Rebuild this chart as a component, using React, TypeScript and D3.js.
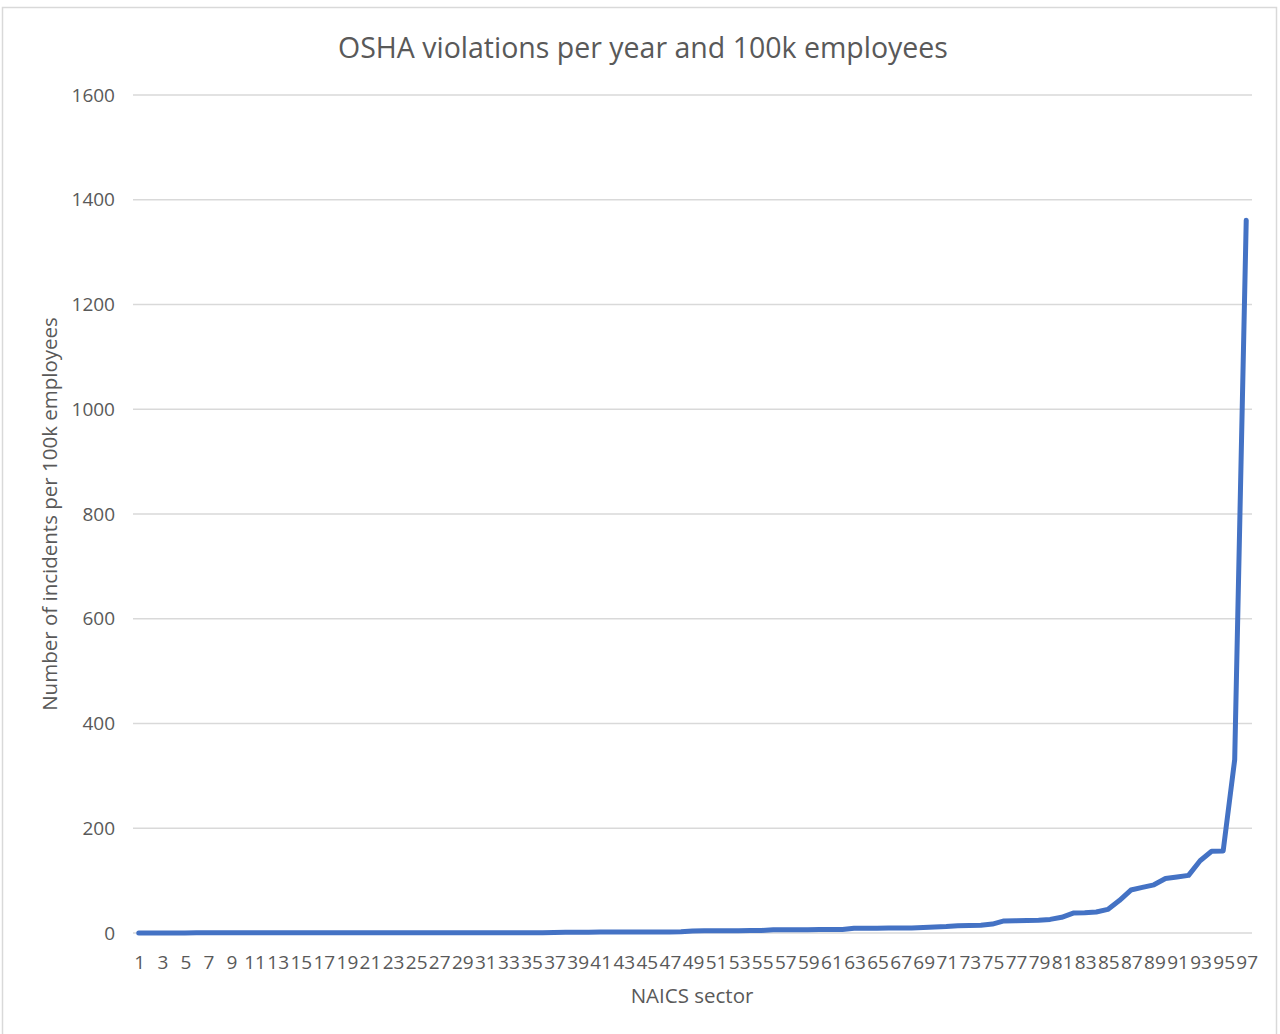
import { useEffect, useRef } from "react";
import * as d3 from "d3";

// NAICS sectors ranked 1..97 (sorted ascending by rate)
const sectors = d3.range(1, 98);

// incidents per year and 100k employees
const rates = [
  0.2, 0.2, 0.2, 0.2, 0.2, 0.3, 0.3, 0.3, 0.3, 0.3,
  0.3, 0.3, 0.4, 0.4, 0.4, 0.4, 0.4, 0.4, 0.4, 0.5,
  0.5, 0.5, 0.5, 0.5, 0.5, 0.5, 0.6, 0.6, 0.6, 0.6,
  0.6, 0.6, 0.7, 0.7, 0.7, 0.7, 1.0, 1.5, 1.6, 1.6,
  1.7, 1.7, 1.8, 1.8, 1.9, 1.9, 2.0, 2.3, 4.0, 4.2,
  4.3, 4.4, 4.5, 4.6, 4.8, 6.0, 6.2, 6.3, 6.4, 6.5,
  6.6, 6.8, 9.0, 9.2, 9.3, 9.4, 9.5, 9.7, 10.5, 11.5,
  12.5, 14.0, 14.5, 15.0, 17.0, 23.0, 23.5, 24.0, 24.5, 26.0,
  30.0, 38.0, 38.5, 40.0, 45.0, 62.0, 82.0, 87.0, 92.0, 104.0,
  107.0, 110.0, 138.0, 156.0, 156.5, 331.0, 1361.0,
];

const yTicks = [0, 200, 400, 600, 800, 1000, 1200, 1400, 1600];

const W = 1280;
const H = 1034;
const margin = { top: 95, right: 28, bottom: 101, left: 133 };
const FONT = "'Open Sans', 'Noto Sans', sans-serif";
const TEXT = "#595959";

export default function App() {
  const ref = useRef<SVGSVGElement>(null);

  useEffect(() => {
    if (!ref.current) return;
    const svg = d3.select(ref.current);
    svg.selectAll("*").remove();

    const x = d3
      .scalePoint<number>()
      .domain(sectors)
      .range([margin.left, W - margin.right])
      .padding(0.5);

    const y = d3
      .scaleLinear()
      .domain([0, 1600])
      .range([H - margin.bottom, margin.top]);

    // chart frame
    svg
      .append("rect")
      .attr("x", 2.5)
      .attr("y", 7.5)
      .attr("width", 1274)
      .attr("height", 1030)
      .attr("fill", "#fff")
      .attr("stroke", "#d9d9d9")
      .attr("stroke-width", 1.5);

    // gridlines
    svg
      .append("g")
      .selectAll("line")
      .data(yTicks)
      .join("line")
      .attr("x1", margin.left)
      .attr("x2", W - margin.right)
      .attr("y1", (d) => y(d))
      .attr("y2", (d) => y(d))
      .attr("stroke", "#d9d9d9")
      .attr("stroke-width", 1.5);

    // y tick labels
    svg
      .append("g")
      .selectAll("text")
      .data(yTicks)
      .join("text")
      .attr("x", 115)
      .attr("y", (d) => y(d))
      .attr("dy", "0.35em")
      .attr("text-anchor", "end")
      .style("font-family", FONT)
      .style("font-size", "19px")
      .style("fill", TEXT)
      .text((d) => String(d));

    // x tick labels (every other sector)
    svg
      .append("g")
      .selectAll("text")
      .data(sectors.filter((d) => d % 2 === 1))
      .join("text")
      .attr("x", (d) => (x(d) ?? 0) + 1)
      .attr("y", 969)
      .attr("text-anchor", "middle")
      .style("font-family", FONT)
      .style("font-size", "19px")
      .style("fill", TEXT)
      .text((d) => String(d));

    // the line
    const line = d3
      .line<number>()
      .x((_, i) => x(sectors[i]) ?? 0)
      .y((d) => y(d));

    svg
      .append("path")
      .datum(rates)
      .attr("d", line)
      .attr("fill", "none")
      .attr("stroke", "#4472c4")
      .attr("stroke-width", 5)
      .attr("stroke-linejoin", "round")
      .attr("stroke-linecap", "round");

    // title
    svg
      .append("text")
      .attr("x", 643)
      .attr("y", 58)
      .attr("text-anchor", "middle")
      .style("font-family", FONT)
      .style("font-size", "28.5px")
      .style("fill", TEXT)
      .text("OSHA violations per year and 100k employees");

    // axis titles
    svg
      .append("text")
      .attr("x", 692)
      .attr("y", 1003)
      .attr("text-anchor", "middle")
      .style("font-family", FONT)
      .style("font-size", "20.5px")
      .style("fill", TEXT)
      .text("NAICS sector");

    svg
      .append("text")
      .attr("transform", "translate(57,514) rotate(-90)")
      .attr("text-anchor", "middle")
      .style("font-family", FONT)
      .style("font-size", "20.5px")
      .style("fill", TEXT)
      .text("Number of incidents per 100k employees");
  }, []);

  return (
    <svg
      ref={ref}
      width={W}
      height={H}
      style={{ position: "absolute", left: 0, top: 0, display: "block" }}
    />
  );
}
